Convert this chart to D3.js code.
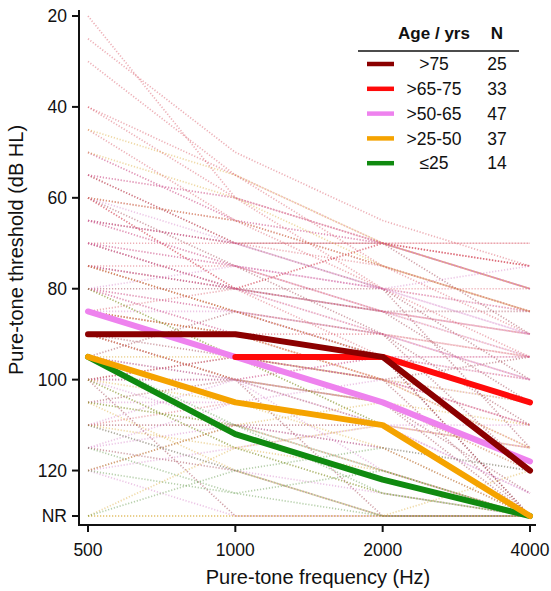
<!DOCTYPE html>
<html><head><meta charset="utf-8">
<script src="https://cdn.jsdelivr.net/npm/d3@7"></script>
<style>body{margin:0;background:#fff}svg{display:block;font-family:"Liberation Sans",Arial,sans-serif}</style>
</head><body><svg id="c" width="551" height="591"></svg>
<script>
const freqs = [500, 1000, 2000, 4000];
const yTicks = [20, 40, 60, 80, 100, 120, 130];
const yTickLabels = ["20", "40", "60", "80", "100", "120", "NR"];
const groups = [">75", ">65-75", ">50-65", ">25-50", "≤25"];
const groupN = [25, 33, 47, 37, 14];
const groupColors = ["#8b0000", "#ff0a0a", "#ee82ee", "#f5a300", "#108a10"];
const indivColors = ["#8b1a2a", "#d23a4a", "#d070c0", "#d8a020", "#4a8a30"];
// mean lines (null = no value)
const meanOver75 = [90, 90, 95, 120];
const mean65to75 = [null, 95, 95, 105];
const mean50to65 = [85, 95, 105, 118];
const mean25to50 = [95, 105, 110, 130];
const meanUnder25 = [95, 112, 122, 130];
// individual thresholds (130 = NR)
const indivOver75 = [
 [55,70,80,115],[60,75,90,120],[75,85,95,130],[85,90,95,120],[90,95,100,130],
 [100,100,105,130],[110,110,110,130],[120,110,115,130],[95,85,90,110],[80,80,85,105],
 [100,95,95,130],[105,100,105,125],[115,120,130,130],[70,80,80,100],[90,100,110,130],
 [95,100,130,130],[100,130,130,130],[65,70,70,90],[85,95,100,95],[75,80,85,85]];
const indiv65to75 = [
 [20,60,70,80],[25,50,65,75],[30,55,70,80],[40,60,70,75],[45,65,75,85],[50,65,70,80],
 [55,70,70,75],[60,65,80,85],[65,75,85,90],[70,80,90,95],[75,85,95,100],[80,85,90,100],
 [85,90,100,110],[90,100,95,105],[100,95,100,110],[110,105,110,115],[40,55,75,90],
 [60,80,70,70],[65,70,70,70],[75,75,85,95],[80,90,100,115],[70,70,75,85],[55,60,80,95],
 [60,80,95,95],[75,80,70,75],[90,90,90,95],[70,75,80,80],[85,80,85,90]];
const indiv50to65 = [
 [50,65,70,80],[55,60,70,80],[60,70,80,90],[65,75,80,85],[70,80,85,95],[75,80,90,100],
 [80,90,95,105],[85,95,100,110],[90,100,105,120],[95,100,110,115],[100,110,115,120],
 [105,105,110,125],[110,120,125,130],[115,110,120,130],[120,130,130,130],[85,85,90,100],
 [70,75,85,90],[95,105,110,125],[100,100,120,130],[60,65,75,85],[80,75,80,90],
 [110,100,95,100],[115,105,100,105],[65,70,80,75],[120,115,110,110],[80,85,95,95]];
const indiv25to50 = [
 [45,55,70,80],[60,65,75,85],[75,85,95,105],[85,90,100,115],[90,100,105,120],
 [95,105,110,130],[100,105,115,130],[105,110,120,130],[110,115,120,130],[130,130,130,130],
 [130,130,130,130],[80,95,110,130],[120,110,105,110],[100,115,125,130],[130,115,110,115],
 [50,60,75,85],[95,95,100,105],[105,120,130,120]];
const indivUnder25 = [
 [80,95,110,130],[95,110,120,130],[100,115,125,130],[110,120,130,130],[130,120,115,120],
 [105,110,125,130],[115,125,130,130],[120,125,120,130]];

const svg = d3.select("#c");
const x = d3.scaleLog().domain([500, 4000]).range([88, 530]);
const y = d3.scaleLinear().domain([20, 130]).range([16, 516]);

svg.append("defs").append("clipPath").attr("id","clip")
  .append("rect").attr("x",80).attr("y",8).attr("width",460).attr("height",515);

const line = d3.line().defined(d => d[1] != null).x(d => x(d[0])).y(d => y(d[1]));
const toPts = arr => arr.map((v,i) => [freqs[i], v]);

const indivSets = [indivOver75, indiv65to75, indiv50to65, indiv25to50, indivUnder25];
const gInd = svg.append("g").attr("clip-path","url(#clip)");
indivSets.forEach((set, gi) => {
  set.forEach(row => {
    gInd.append("path").attr("d", line(toPts(row)))
      .attr("fill","none").attr("stroke", indivColors[gi])
      .attr("stroke-opacity", 0.4).attr("stroke-width", 1.7)
      .attr("stroke-dasharray","1.2,1.8");
  });
});

const means = [meanOver75, mean65to75, mean50to65, mean25to50, meanUnder25];
const gMean = svg.append("g");
[4,3,2,1,0].forEach(gi => {
  gMean.append("path").attr("d", line(toPts(means[gi])))
    .attr("fill","none").attr("stroke", groupColors[gi])
    .attr("stroke-width", 6).attr("stroke-linejoin","round").attr("stroke-linecap","round");
});

// axes
const ax = svg.append("g").attr("stroke","#111").attr("stroke-width",2);
ax.append("line").attr("x1",79).attr("x2",79).attr("y1",10).attr("y2",525);
ax.append("line").attr("x1",78).attr("x2",536).attr("y1",525).attr("y2",525);
yTicks.forEach((t,i) => {
  ax.append("line").attr("x1",72).attr("x2",79).attr("y1",y(t)).attr("y2",y(t));
  svg.append("text").attr("x",67).attr("y",y(t)).attr("dy","0.35em")
    .attr("text-anchor","end").attr("font-size",17.5).attr("fill","#111").text(yTickLabels[i]);
});
freqs.forEach(f => {
  ax.append("line").attr("x1",x(f)).attr("x2",x(f)).attr("y1",525).attr("y2",532);
  svg.append("text").attr("x",x(f)).attr("y",550).attr("dy","0.35em")
    .attr("text-anchor","middle").attr("font-size",17.5).attr("fill","#111").text(f);
});
svg.append("text").attr("x",318).attr("y",577).attr("dy","0.35em")
  .attr("text-anchor","middle").attr("font-size",20).attr("fill","#111")
  .text("Pure-tone frequency (Hz)");
svg.append("text").attr("transform","translate(16,250) rotate(-90)").attr("dy","0.35em")
  .attr("text-anchor","middle").attr("font-size",20).attr("fill","#111")
  .text("Pure-tone threshold (dB HL)");

// legend
const lg = svg.append("g");
lg.append("rect").attr("x",356).attr("y",18).attr("width",168).attr("height",160).attr("fill","#fff");
lg.append("text").attr("x",434).attr("y",33).attr("dy","0.35em").attr("text-anchor","middle")
  .attr("font-size",17).attr("font-weight","bold").attr("fill","#111").text("Age / yrs");
lg.append("text").attr("x",497).attr("y",33).attr("dy","0.35em").attr("text-anchor","middle")
  .attr("font-size",17).attr("font-weight","bold").attr("fill","#111").text("N");
lg.append("line").attr("x1",358).attr("x2",519).attr("y1",51).attr("y2",51)
  .attr("stroke","#111").attr("stroke-width",1.5);
groups.forEach((g,i) => {
  const yy = 64 + i*24.8;
  lg.append("line").attr("x1",367).attr("x2",394).attr("y1",yy).attr("y2",yy)
    .attr("stroke",groupColors[i]).attr("stroke-width",4.5);
  lg.append("text").attr("x",434).attr("y",yy).attr("dy","0.35em").attr("text-anchor","middle")
    .attr("font-size",17.5).attr("fill","#111").text(g);
  lg.append("text").attr("x",497).attr("y",yy).attr("dy","0.35em").attr("text-anchor","middle")
    .attr("font-size",17.5).attr("fill","#111").text(groupN[i]);
});
</script></body></html>
